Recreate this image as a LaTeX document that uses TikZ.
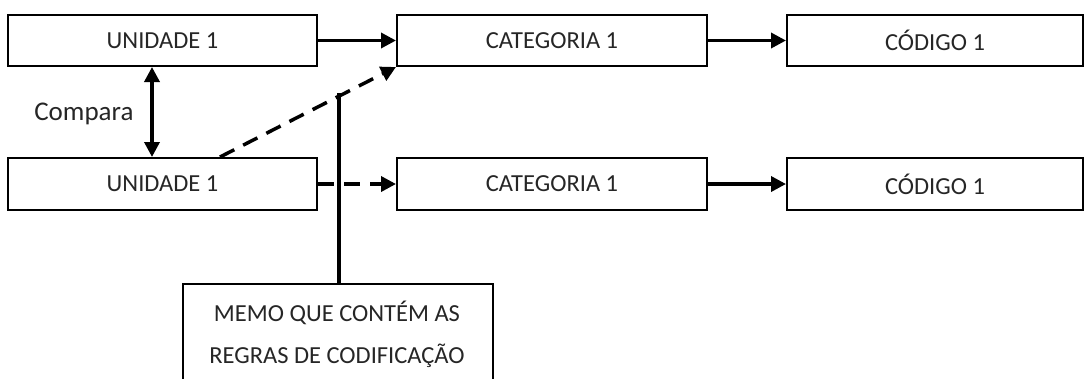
\documentclass[tikz,border=0pt]{standalone}
\usepackage{fontspec}
\setmainfont{Carlito}
\usetikzlibrary{arrows.meta}
\begin{document}
\begin{tikzpicture}[x=1pt,y=-1pt,
  lbl/.style={font=\fontsize{24.5}{29}\selectfont, text=black!85},
  box/.style={lbl, draw=black, line width=2pt, inner sep=0pt},
  arr/.style={line width=3.5pt, -{Triangle[length=15pt,width=15pt]}},
  dsh/.style={arr, dash pattern=on 16pt off 10pt}]
\useasboundingbox (0,0) rectangle (1084,378);
\node[box, minimum width=309pt, minimum height=51pt] (u1) at (162.5,40.5) {UNIDADE 1};
\node[box, minimum width=309pt, minimum height=52pt] (u2) at (162.5,184) {UNIDADE 1};
\node[box, minimum width=310pt, minimum height=51pt] (c1) at (552,40.5) {CATEGORIA 1};
\node[box, minimum width=310pt, minimum height=52pt] (c2) at (552,184) {CATEGORIA 1};
\node[box, minimum width=296pt, minimum height=51pt] (k1) at (935,40.5) {CÓDIGO 1};
\node[box, minimum width=296pt, minimum height=52pt] (k2) at (935,184) {CÓDIGO 1};
\node[box, minimum width=310pt, minimum height=130pt, anchor=north] (memo) at (338,283) {};
\node[lbl] (m1) at (337,313) {MEMO QUE CONTÉM AS};
\node[lbl] (m2) at (337,356) {REGRAS DE CODIFICAÇÃO};
\node[lbl, font=\fontsize{27}{32}\selectfont, anchor=east] (cmp) at (137,114) {Compara};
\draw[arr] (u1) -- (c1);
\draw[arr] (c1) -- (k1);
\draw[arr] (c2) -- (k2);
\draw[dsh] (u2) -- (c2);
\draw[line width=3.5pt, {Triangle[length=15pt,width=15pt]}-{Triangle[length=15pt,width=15pt]}] (u1.south -| 152,0) -- (u2.north -| 152,0);
\draw[dsh] (u2.north -| 220,0) -- (c1.south west);
\coordinate (top) at (339,93);
\draw[line width=4pt] (top) -- (memo.north -| top);
\end{tikzpicture}
\end{document}
